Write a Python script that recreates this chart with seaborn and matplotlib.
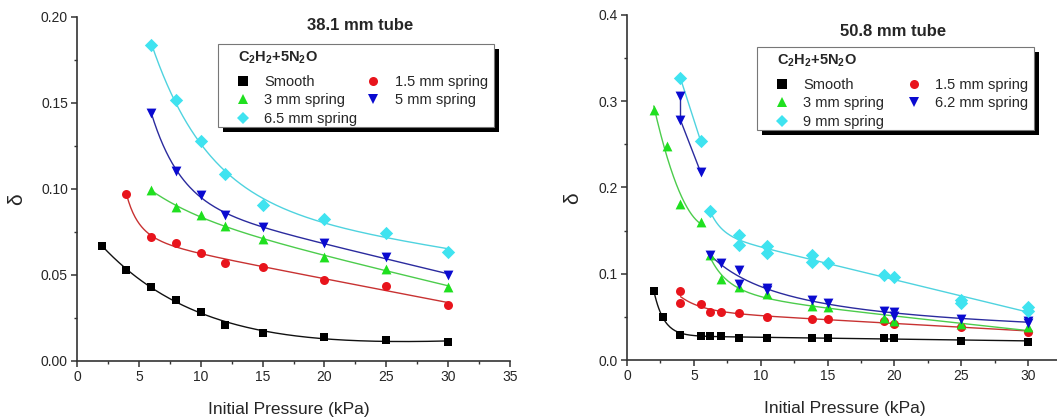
import numpy as np
import pandas as pd
import matplotlib
matplotlib.use("Agg")
import matplotlib.pyplot as plt
import seaborn as sns
from matplotlib.lines import Line2D
from matplotlib.patches import Rectangle
from matplotlib.transforms import IdentityTransform
from matplotlib.ticker import MultipleLocator, FormatStrFormatter

# ---------------- data: 38.1 mm tube ----------------
L_smooth_x = [2, 4, 6, 8, 10, 12, 15, 20, 25, 30]
L_smooth_y = [0.067, 0.053, 0.043, 0.0356, 0.0285, 0.0211, 0.0165, 0.014, 0.0122, 0.011]
L_s15_x = [4, 6, 8, 10, 12, 15, 20, 25, 30]
L_s15_y = [0.097, 0.0719, 0.0688, 0.0626, 0.0572, 0.0548, 0.0469, 0.0436, 0.0327]
L_s3_x = [6, 8, 10, 12, 15, 20, 25, 30]
L_s3_y = [0.0994, 0.0895, 0.0847, 0.0785, 0.0707, 0.0607, 0.0537, 0.0432]
L_s5_x = [6, 8, 10, 12, 15, 20, 25, 30]
L_s5_y = [0.1444, 0.1107, 0.0967, 0.0847, 0.0777, 0.0688, 0.0603, 0.0498]
L_s65_x = [6, 8, 10, 12, 15, 20, 25, 30]
L_s65_y = [0.1835, 0.152, 0.1277, 0.1089, 0.0909, 0.0824, 0.0742, 0.0634]

# ---------------- data: 50.8 mm tube ----------------
R_smooth_x = [2.0, 2.7, 4.0, 5.5, 6.2, 7.0, 8.4, 10.5, 13.8, 15, 19.2, 20, 25, 30]
R_smooth_y = [0.0804, 0.0495, 0.0286, 0.0278, 0.0278, 0.0278, 0.026, 0.026, 0.026, 0.026,
              0.0255, 0.0255, 0.0224, 0.021]
R_s15_x = [4.0, 4.0, 5.5, 6.2, 7.0, 8.4, 10.5, 13.8, 15, 19.2, 20, 25, 30]
R_s15_y = [0.080, 0.0665, 0.065, 0.0558, 0.0558, 0.055, 0.0495, 0.0473, 0.0473, 0.0449,
           0.042, 0.0387, 0.0325]
R_s3_hi_x = [2.0, 3.0, 4.0, 5.5]
R_s3_hi_y = [0.29, 0.248, 0.1814, 0.1605]
R_s3_lo_x = [6.2, 7.0, 8.4, 10.5, 13.8, 15, 19.2, 20, 25, 30]
R_s3_lo_y = [0.1222, 0.0936, 0.0852, 0.0767, 0.0628, 0.062, 0.0487, 0.0457, 0.0419, 0.038]
R_s62_hi_x = [4.0, 4.0, 5.5]
R_s62_hi_y = [0.3058, 0.278, 0.218]
R_s62_lo_x = [6.2, 7.0, 8.4, 8.4, 10.5, 10.5, 13.8, 15, 19.2, 20, 20, 25, 30, 30]
R_s62_lo_y = [0.1214, 0.1124, 0.1038, 0.0884, 0.0829, 0.081, 0.069, 0.0665, 0.0565, 0.0558,
              0.051, 0.0479, 0.0457, 0.0425]
R_s9_hi_x = [4.0, 5.5]
R_s9_hi_y = [0.3265, 0.2543]
R_s9_lo_x = [6.2, 8.4, 8.4, 10.5, 10.5, 13.8, 13.8, 15, 19.2, 20, 25, 25, 30, 30]
R_s9_lo_y = [0.1729, 0.145, 0.133, 0.1326, 0.124, 0.1214, 0.1137, 0.1124, 0.0984, 0.096,
             0.0697, 0.0657, 0.0611, 0.0565]

L_labels = ["Smooth", "1.5 mm spring", "3 mm spring", "5 mm spring", "6.5 mm spring"]
R_labels = ["Smooth", "1.5 mm spring", "3 mm spring", "6.2 mm spring", "9 mm spring"]
legend_title = r"$\mathbf{C_2H_2{+}5N_2O}$"
x_ticks_L = [0, 5, 10, 15, 20, 25, 30, 35]
x_ticks_R = [0, 5, 10, 15, 20, 25, 30]
y_ticks_L = [0.00, 0.05, 0.10, 0.15, 0.20]
y_ticks_R = [0.0, 0.1, 0.2, 0.3, 0.4]

# ---------------- style ----------------
sns.set_style("ticks")
plt.rcParams["font.family"] = ["Liberation Sans", "DejaVu Sans"]
plt.rcParams["mathtext.fontset"] = "custom"
plt.rcParams["mathtext.rm"] = "Liberation Sans"
plt.rcParams["mathtext.bf"] = "Liberation Sans:bold"
plt.rcParams["mathtext.it"] = "Liberation Sans:italic"

MK = {"black": "#000000", "red": "#e8141c", "green": "#1fe01f", "blue": "#0a0ad0", "cyan": "#3fe3f0"}
LN = {"black": "#111111", "red": "#c83232", "green": "#4ccc4c", "blue": "#2b2b9e", "cyan": "#4fd3df"}
MARK = {"black": "s", "red": "o", "green": "^", "blue": "v", "cyan": "D"}
SIZE = {"black": 34, "red": 42, "green": 50, "blue": 50, "cyan": 46}


def fit_curve(x, y, n=300):
    x = np.asarray(x, float)
    y = np.asarray(y, float)
    xs = np.linspace(x.min(), x.max(), n)
    best_sse, best_y = np.inf, None
    for kind in ("pow", "exp"):
        params = np.linspace(0.2, 6, 59) if kind == "pow" else np.linspace(0.3, 15, 99)
        for p in params:
            if kind == "pow":
                f, fs = x ** -p, xs ** -p
            else:
                f, fs = np.exp(-x / p), np.exp(-xs / p)
            A = np.column_stack([np.ones_like(x), x, f])
            c, *_ = np.linalg.lstsq(A, y, rcond=None)
            sse = np.sum((A @ c - y) ** 2)
            if sse < best_sse:
                B = np.column_stack([np.ones_like(xs), xs, fs])
                best_sse, best_y = sse, B @ c
    return xs, best_y


def quad_curve(x, y, n=200):
    c = np.polyfit(x, y, 2)
    xs = np.linspace(min(x), max(x), n)
    return xs, np.polyval(c, xs)


fig = plt.figure(figsize=(10.57, 4.18), dpi=100)
axL = fig.add_axes([77 / 1057, 57 / 418, 433 / 1057, 344 / 418])
axR = fig.add_axes([627 / 1057, 58 / 418, 430 / 1057, 345 / 418])


def pts(ax, x, y, key):
    sns.scatterplot(x=x, y=y, marker=MARK[key], color=MK[key], s=SIZE[key],
                    linewidth=0, ax=ax, zorder=3)


def curve(ax, xs, ys, key, sort=True):
    sns.lineplot(x=xs, y=ys, color=LN[key], lw=1.0, ax=ax, sort=sort,
                 estimator=None, zorder=2)


# left panel
for (x, y), key in zip([(L_smooth_x, L_smooth_y), (L_s15_x, L_s15_y), (L_s3_x, L_s3_y),
                        (L_s5_x, L_s5_y), (L_s65_x, L_s65_y)],
                       ["black", "red", "green", "blue", "cyan"]):
    xs, ys = fit_curve(x, y)
    curve(axL, xs, ys, key)
    pts(axL, x, y, key)

# right panel
for (x, y), key in zip([(R_smooth_x, R_smooth_y), (R_s15_x, R_s15_y), (R_s3_lo_x, R_s3_lo_y),
                        (R_s62_lo_x, R_s62_lo_y), (R_s9_lo_x, R_s9_lo_y)],
                       ["black", "red", "green", "blue", "cyan"]):
    xs, ys = fit_curve(x, y)
    curve(axR, xs, ys, key)
    pts(axR, x, y, key)
xs, ys = quad_curve(R_s3_hi_x, R_s3_hi_y)
curve(axR, xs, ys, "green")
pts(axR, R_s3_hi_x, R_s3_hi_y, "green")
curve(axR, R_s62_hi_x, R_s62_hi_y, "blue", sort=False)
pts(axR, R_s62_hi_x, R_s62_hi_y, "blue")
curve(axR, R_s9_hi_x, R_s9_hi_y, "cyan", sort=False)
pts(axR, R_s9_hi_x, R_s9_hi_y, "cyan")

# axes styling
for ax, xt, yt, xlim, ylim, ymin, fmt, ylx, xlx in [
        (axL, x_ticks_L, y_ticks_L, (0, 35), (0, 0.20), 0.025, "%.2f", -0.118, 0.49),
        (axR, x_ticks_R, y_ticks_R, (0, 32.15), (0, 0.4), 0.05, "%.1f", -0.105, 0.507)]:
    ax.set_xlim(*xlim)
    ax.set_ylim(*ylim)
    ax.set_xticks(xt)
    ax.set_yticks(yt)
    ax.xaxis.set_minor_locator(MultipleLocator(2.5))
    ax.yaxis.set_minor_locator(MultipleLocator(ymin))
    ax.yaxis.set_major_formatter(FormatStrFormatter(fmt))
    sns.despine(ax=ax)
    for s in ("left", "bottom"):
        ax.spines[s].set_color("#333333")
        ax.spines[s].set_linewidth(1.2)
    ax.tick_params(which="major", direction="out", length=4, width=1.1, color="#333333",
                   labelsize=10, pad=2.5)
    ax.tick_params(which="minor", direction="out", length=2.2, width=1.0, color="#333333")
    ax.set_xlabel("Initial Pressure (kPa)", fontsize=12.5)
    ax.set_ylabel("δ", fontsize=15, rotation=90)
    ax.xaxis.set_label_coords(xlx, -0.118)
    ax.yaxis.set_label_coords(ylx, 0.47)

fig.text(360 / 1057, 1 - 25 / 418, "38.1 mm tube", ha="center", va="center",
         fontsize=12, fontweight="bold")
fig.text(893 / 1057, 1 - 32 / 418, "50.8 mm tube", ha="center", va="center",
         fontsize=12, fontweight="bold")


def make_legend(ax, labels, anchor, colsp):
    keys = ["black", "red", "green", "blue", "cyan"]
    order = [0, 2, 4, 1, 3]
    handles = [Line2D([], [], marker=MARK[keys[i]], color=MK[keys[i]], linestyle="none",
                      markersize=6.5 if keys[i] != "cyan" else 6.2, markeredgewidth=0)
               for i in order]
    leg = ax.legend(handles=handles, labels=[labels[i] for i in order], ncol=2,
                    loc="upper left", bbox_to_anchor=anchor, bbox_transform=fig.transFigure,
                    frameon=False, borderpad=0, borderaxespad=0, title=legend_title,
                    alignment="left", handlelength=0.7, handletextpad=1.1,
                    columnspacing=colsp, labelspacing=0.3, fontsize=10.5,
                    title_fontsize=10.5)
    leg._legend_box.sep = 0.3 * 10.5 + 3
    return leg


legL = make_legend(axL, L_labels, (238 / 1057, 1 - 50 / 418), 0.75)
legR = make_legend(axR, R_labels, (777 / 1057, 1 - 53 / 418), 1.7)
legL.set_zorder(6)
legR.set_zorder(6)

fig.canvas.draw()
renderer = fig.canvas.get_renderer()
for ax, leg in [(axL, legL), (axR, legR)]:
    bb = leg.get_window_extent(renderer)
    x0, x1 = bb.x0 - 20, bb.x1 + 6
    y0, y1 = bb.y0 - 1, bb.y1 + 6
    shadow = Rectangle((x0 + 5, y0 - 5), x1 - x0, y1 - y0, transform=IdentityTransform(),
                       facecolor="black", edgecolor="none", zorder=4, clip_on=False)
    frame = Rectangle((x0, y0), x1 - x0, y1 - y0, transform=IdentityTransform(),
                      facecolor="white", edgecolor="#777777", linewidth=0.8, zorder=4.5,
                      clip_on=False)
    ax.add_artist(shadow)
    ax.add_artist(frame)

fig.savefig("out.png", dpi=100)
